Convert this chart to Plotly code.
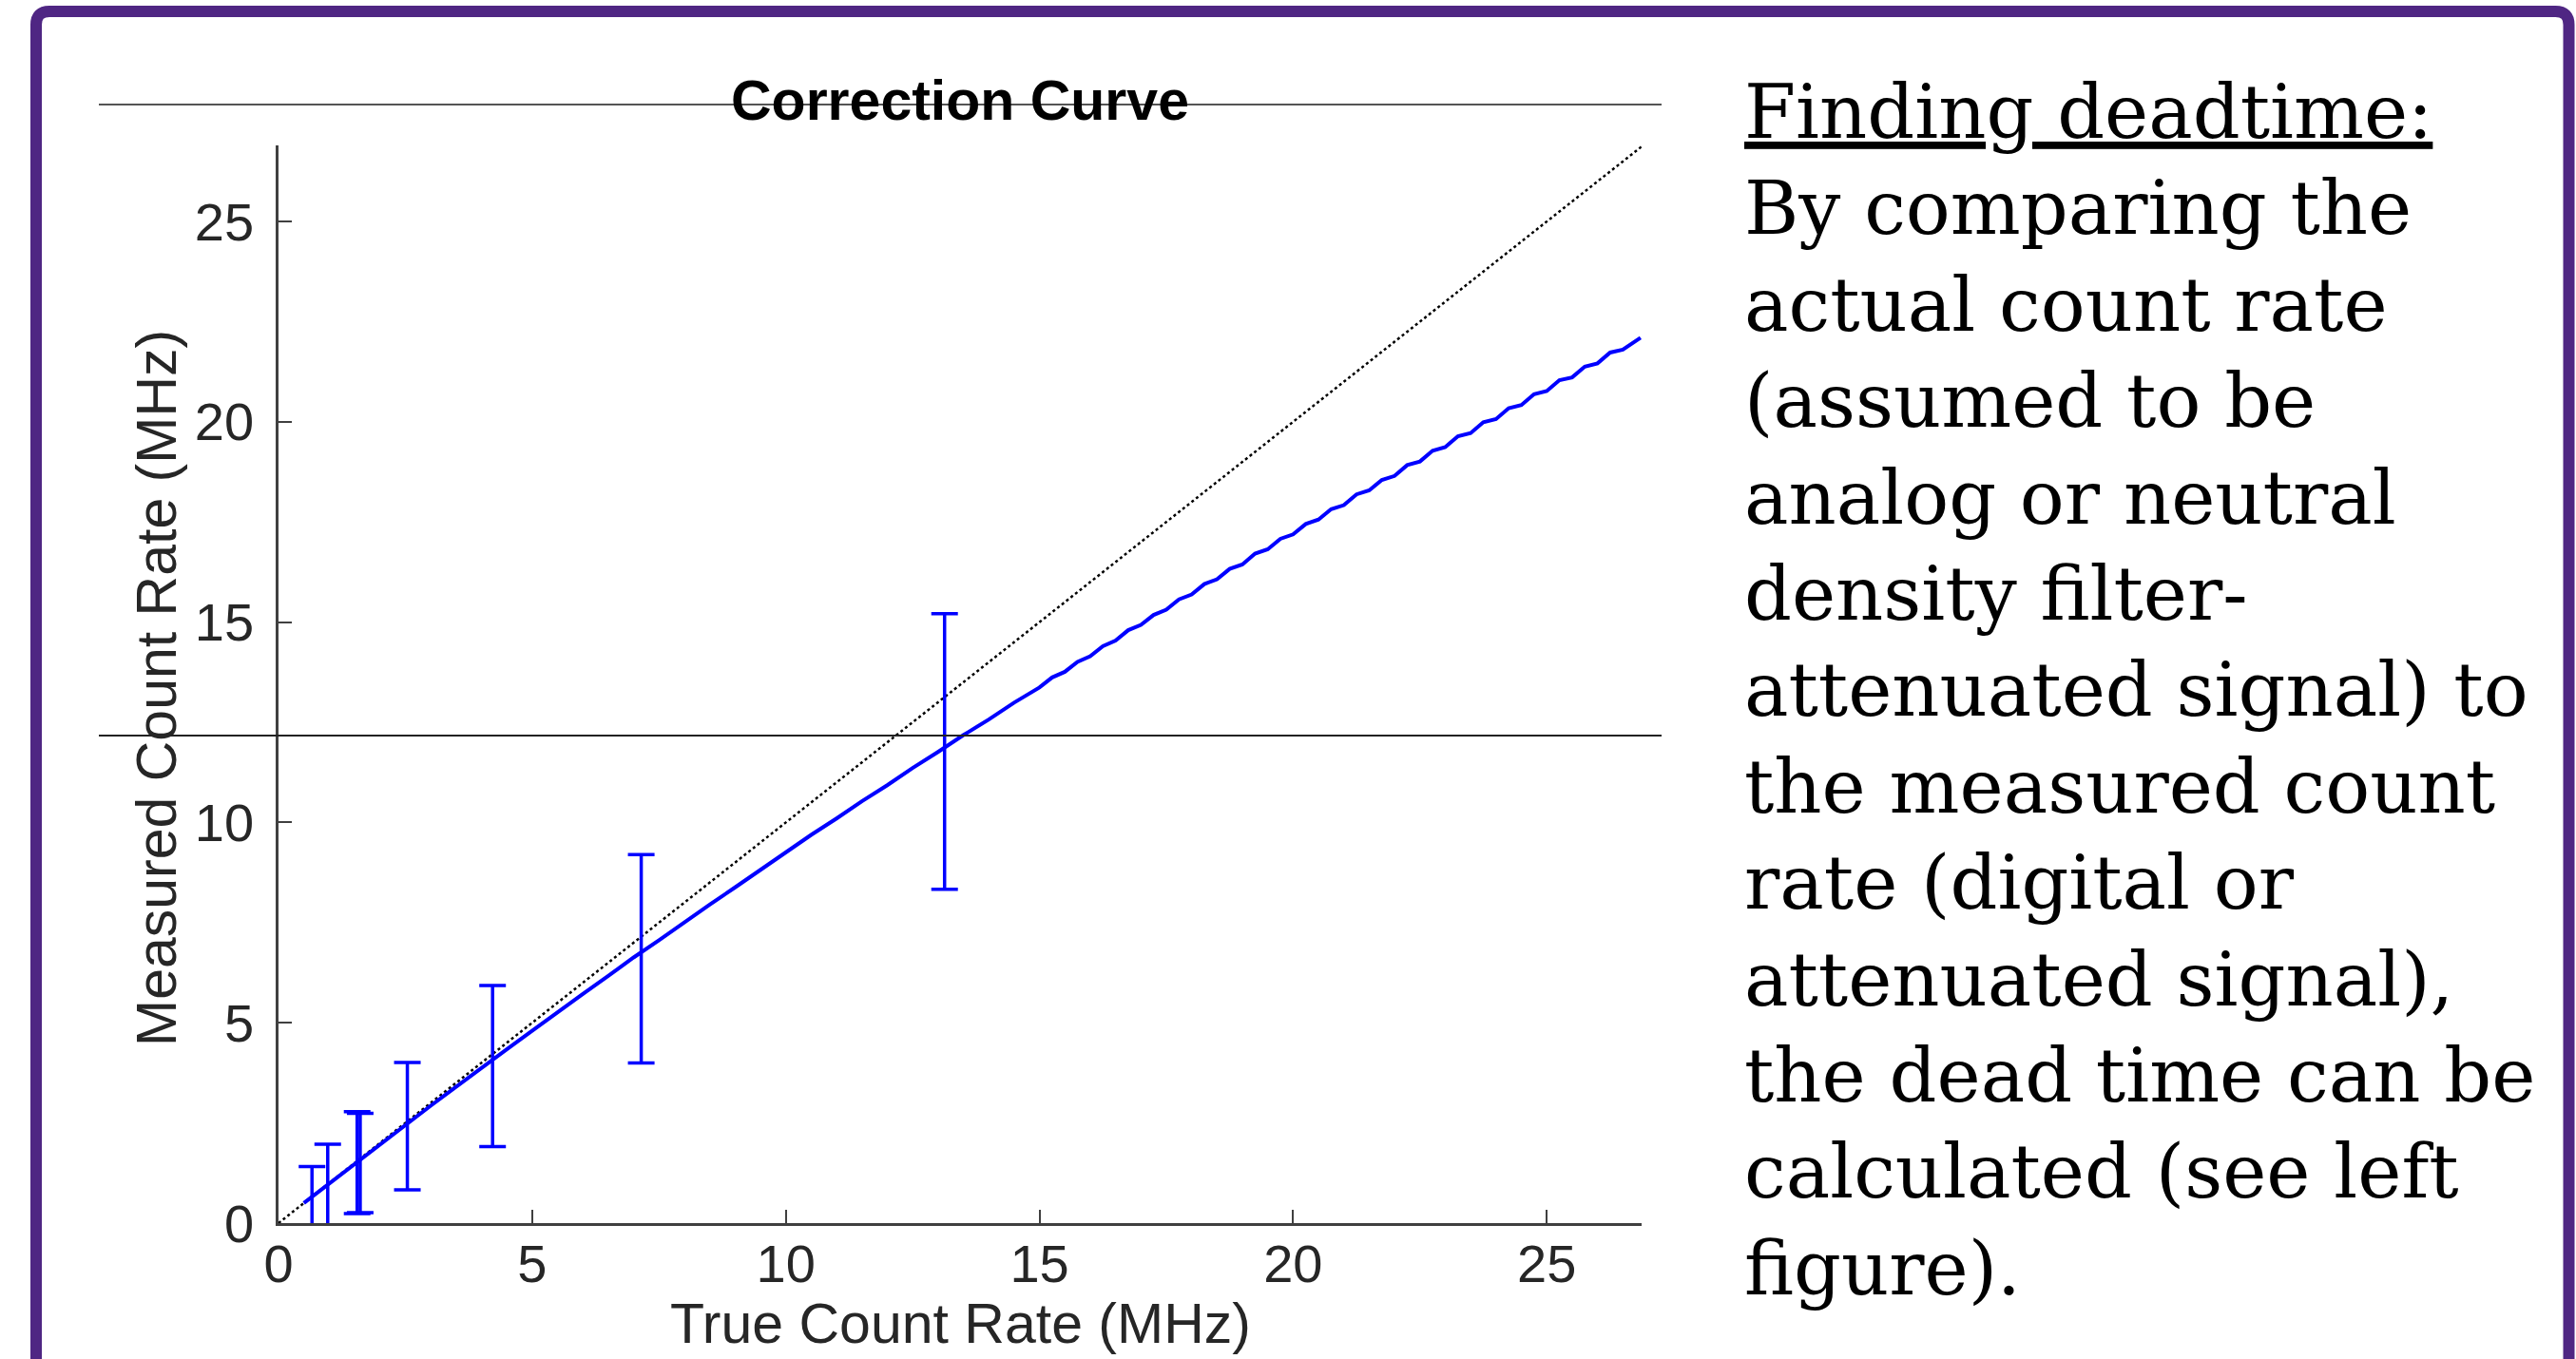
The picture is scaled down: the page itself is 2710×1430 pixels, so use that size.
import plotly.graph_objects as go

W, H = 2710, 1430

# ---- data ----
true_rate = [0.5, 1.0, 1.5, 2.0, 2.5, 3.0, 3.5, 4.0, 4.5, 5.0, 5.5, 6.0, 6.5, 7.0,
             7.5, 8.0, 8.5, 9.0, 9.5, 10.0, 10.5, 11.0, 11.5, 12.0, 12.5, 13.0, 13.5,
             14.0, 14.5, 15.0,
             15.25, 15.5, 15.75, 16.0, 16.25, 16.5, 16.75, 17.0, 17.25, 17.5, 17.75,
             18.0, 18.25, 18.5, 18.75, 19.0, 19.25, 19.5, 19.75, 20.0, 20.25, 20.5,
             20.75, 21.0, 21.25, 21.5, 21.75, 22.0, 22.25, 22.5, 22.75, 23.0, 23.25,
             23.5, 23.75, 24.0, 24.25, 24.5, 24.75, 25.0, 25.25, 25.5, 25.75, 26.0,
             26.25, 26.5, 26.85]
measured_rate = [0.50, 0.99, 1.48, 1.97, 2.45, 2.93, 3.40, 3.88, 4.34, 4.80, 5.27, 5.72,
                 6.17, 6.63, 7.06, 7.51, 7.95, 8.38, 8.82, 9.25, 9.69, 10.10, 10.53, 10.93,
                 11.36, 11.76, 12.18, 12.57, 12.99, 13.37,
                 13.62, 13.76, 14.01, 14.15, 14.40, 14.54, 14.80, 14.93, 15.18, 15.31,
                 15.57, 15.69, 15.95, 16.07, 16.33, 16.44, 16.71, 16.82, 17.08, 17.19,
                 17.45, 17.56, 17.82, 17.92, 18.19, 18.29, 18.55, 18.65, 18.92, 19.01,
                 19.28, 19.37, 19.64, 19.72, 19.99, 20.07, 20.34, 20.42, 20.69, 20.77,
                 21.04, 21.11, 21.38, 21.46, 21.73, 21.80, 22.10]

ident_x = [0, 26.87]
ident_y = [0, 26.87]

err_x = [0.66, 0.97, 1.55, 1.61, 2.54, 4.22, 7.15, 13.13]
err_y = [0.59, 0.95, 1.51, 1.50, 2.42, 3.92, 6.60, 11.77]
err_half = [0.82, 1.02, 1.27, 1.24, 1.59, 2.01, 2.60, 3.44]

x_ticks = [0, 5, 10, 15, 20, 25]
y_ticks = [0, 5, 10, 15, 20, 25]
x_range = [0, 26.87]
y_range = [0, 26.9]

title_text = "Correction Curve"
x_title = "True Count Rate (MHz)"
y_title = "Measured Count Rate (MHz)"
side_lines = [
    "<u>Finding deadtime:</u>",
    "By comparing the",
    "actual count rate",
    "(assumed to be",
    "analog or neutral",
    "density filter-",
    "attenuated signal) to",
    "the measured count",
    "rate (digital or",
    "attenuated signal),",
    "the dead time can be",
    "calculated (see left",
    "figure).",
]

# ---- helpers: pixel -> paper ----
def px(x):
    return x / W

def py(y):
    return 1 - y / H

BLUE = "#0000FF"
AXIS = "#404040"
TXT = "#262626"
PURPLE = "#4F2683"
SANS = "Liberation Sans, Arial, Helvetica, sans-serif"

fig = go.Figure()

fig.add_trace(go.Scatter(x=ident_x, y=ident_y, mode="lines",
                         line=dict(color="black", width=2.5, dash="dot"),
                         hoverinfo="skip", showlegend=False))
fig.add_trace(go.Scatter(x=true_rate, y=measured_rate, mode="lines",
                         line=dict(color=BLUE, width=4),
                         showlegend=False))
fig.add_trace(go.Scatter(x=err_x, y=err_y, mode="markers",
                         marker=dict(size=1, color=BLUE),
                         error_y=dict(type="data", array=err_half, visible=True,
                                      color=BLUE, thickness=3.5, width=14),
                         showlegend=False))

axis_common = dict(showgrid=False, zeroline=False, showline=True, linecolor=AXIS,
                   linewidth=2.5, ticks="inside", ticklen=14, tickwidth=2,
                   tickcolor=AXIS, automargin=False,
                   tickfont=dict(family=SANS, size=56, color=TXT))

fig.update_layout(
    width=W, height=H,
    margin=dict(l=0, r=0, t=0, b=0, pad=0, autoexpand=False),
    paper_bgcolor="white", plot_bgcolor="white",
    xaxis=dict(domain=[px(293), px(1727)], range=x_range, tickvals=x_ticks,
               ticklabelstandoff=-8, **axis_common),
    yaxis=dict(domain=[py(1287), py(153)], range=y_range, tickvals=y_ticks,
               ticklabelstandoff=12, **axis_common),
)

annotations = [
    dict(text="<b>" + title_text + "</b>", x=px(1010), y=py(106), xref="paper", yref="paper",
         xanchor="center", yanchor="middle", showarrow=False,
         font=dict(family=SANS, size=59, color="black")),
    dict(text=x_title, x=px(1010), y=py(1393), xref="paper", yref="paper",
         xanchor="center", yanchor="middle", showarrow=False,
         font=dict(family=SANS, size=59, color=TXT)),
    dict(text=y_title, x=px(165), y=py(724), xref="paper", yref="paper",
         xanchor="center", yanchor="middle", textangle=-90, showarrow=False,
         font=dict(family=SANS, size=59, color=TXT)),
    dict(text="<br>".join(side_lines), x=px(1833), y=py(71), xref="paper", yref="paper",
         xanchor="left", yanchor="top", align="left", showarrow=False,
         font=dict(family="DejaVu Serif, serif", size=78, color="black")),
]
fig.update_layout(annotations=annotations)

shapes = [
    # slide lines crossing the figure
    dict(type="line", xref="paper", yref="paper", x0=px(104), x1=px(1748),
         y0=py(110), y1=py(110), line=dict(color="#555555", width=2), layer="below"),
    dict(type="line", xref="paper", yref="paper", x0=px(104), x1=px(1748),
         y0=py(774), y1=py(774), line=dict(color="#222222", width=2), layer="above"),
]
# purple frame (left, top, right) with rounded top corners
r = 14
xl, xr, yt, yb = 38, 2702.5, 12, 1430
path = (f"M {px(xl)},{py(yb)} L {px(xl)},{py(yt + r)} "
        f"Q {px(xl)},{py(yt)} {px(xl + r)},{py(yt)} "
        f"L {px(xr - r)},{py(yt)} "
        f"Q {px(xr)},{py(yt)} {px(xr)},{py(yt + r)} "
        f"L {px(xr)},{py(yb)}")
shapes.append(dict(type="path", xref="paper", yref="paper", path=path,
                   line=dict(color=PURPLE, width=12)))
fig.update_layout(shapes=shapes)

fig.write_html("out.html")
